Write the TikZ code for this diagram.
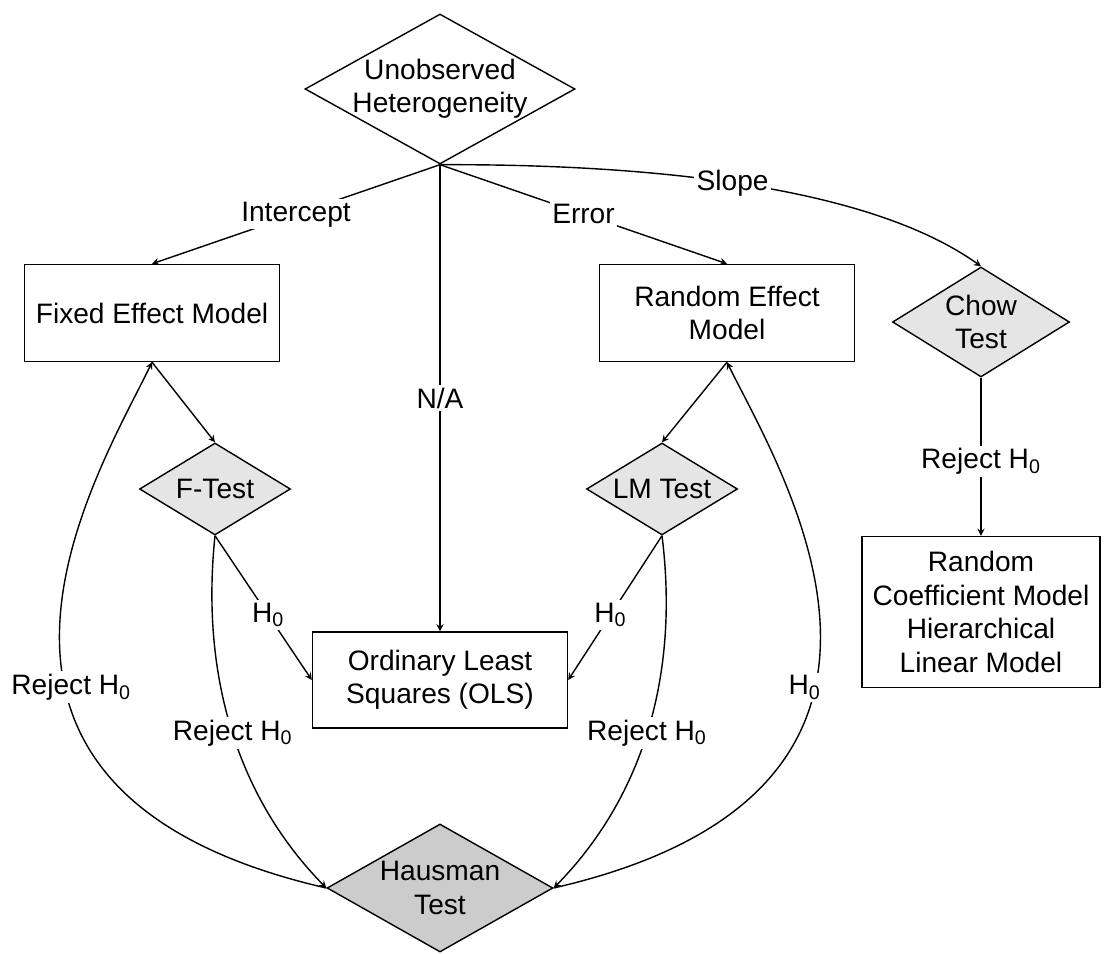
\documentclass[tikz,border=0pt]{standalone}
\usepackage{fontspec}
\setmainfont{Liberation Sans}
\usetikzlibrary{shapes.geometric}

\begin{document}
\begin{tikzpicture}[x=0.2mm,y=-0.2mm,>=stealth,line width=0.8pt,
  every node/.style={font=\fontsize{16}{19}\selectfont},
  model/.style={rectangle,draw,align=center,minimum width=51mm},
  test/.style={diamond,draw,inner sep=0pt,fill=gray!20},
  lbl/.style={fill=white,inner sep=1.5pt}]
  \useasboundingbox (0,0) rectangle (1107,954);
  \node[test,fill=white,minimum width=54mm,minimum height=30mm,
    label={[align=center]center:Unobserved\\Heterogeneity}] (het) at (440,89) {};
  \node[model,minimum height=19.4mm] (fixed) at (152,313) {Fixed Effect Model};
  \node[model,minimum height=19.4mm] (random) at (727,313) {Random Effect\\Model};
  \node[test,minimum width=35.4mm,minimum height=22mm,
    label={[align=center]center:Chow\\Test}] (chow) at (981,322) {};
  \node[test,minimum width=30.2mm,minimum height=18.4mm,
    label={center:F-Test}] (ftest) at (215,489) {};
  \node[test,minimum width=30.2mm,minimum height=18.4mm,
    label={center:LM Test}] (lmtest) at (662,489) {};
  \node[model,minimum height=19.2mm] (ols) at (440,680) {Ordinary Least\\Squares (OLS)};
  \node[model,minimum width=47.6mm,minimum height=30.2mm] (rcm) at (981,612)
    {Random\\Coefficient Model\\Hierarchical\\Linear Model};
  \node[test,fill=gray!40,minimum width=45.2mm,minimum height=25.6mm,
    label={[align=center]center:Hausman\\Test}] (haus) at (440,888) {};
  % from the top decision
  \draw[->] (het.south) -- node[lbl] {Intercept} (fixed.north);
  \draw[->] (het.south) -- node[lbl] {Error} (random.north);
  \draw[->] (het.south) -- node[lbl] {N/A} (ols.north);
  \draw[->] (het.south) .. controls (620,164) and (860,180) .. node[lbl] {Slope} (chow.north);
  % tests
  \draw[->] (fixed.south) -- (ftest.north);
  \draw[->] (random.south) -- (lmtest.north);
  \draw[->] (ftest.south) -- node[lbl,pos=0.55] {H\textsubscript{0}} (ols.west);
  \draw[->] (lmtest.south) -- node[lbl,pos=0.55] {H\textsubscript{0}} (ols.east);
  \draw[->] (ftest.south) .. controls (200,680) and (240,800) .. node[lbl] {Reject H\textsubscript{0}} (haus.west);
  \draw[->] (lmtest.south) .. controls (680,680) and (640,800) .. node[lbl] {Reject H\textsubscript{0}} (haus.east);
  \draw[->] (haus.west) .. controls (-100,790) and (100,470) .. node[lbl,pos=0.42,xshift=1.6mm,yshift=-1.6mm] {Reject H\textsubscript{0}} (fixed.south);
  \draw[->] (haus.east) .. controls (980,790) and (780,470) .. node[lbl,pos=0.42,xshift=-2.4mm,yshift=-1.6mm] {H\textsubscript{0}} (random.south);
  \draw[->] (chow.south) -- node[lbl,pos=0.53] {Reject H\textsubscript{0}} (rcm.north);
\end{tikzpicture}
\end{document}
